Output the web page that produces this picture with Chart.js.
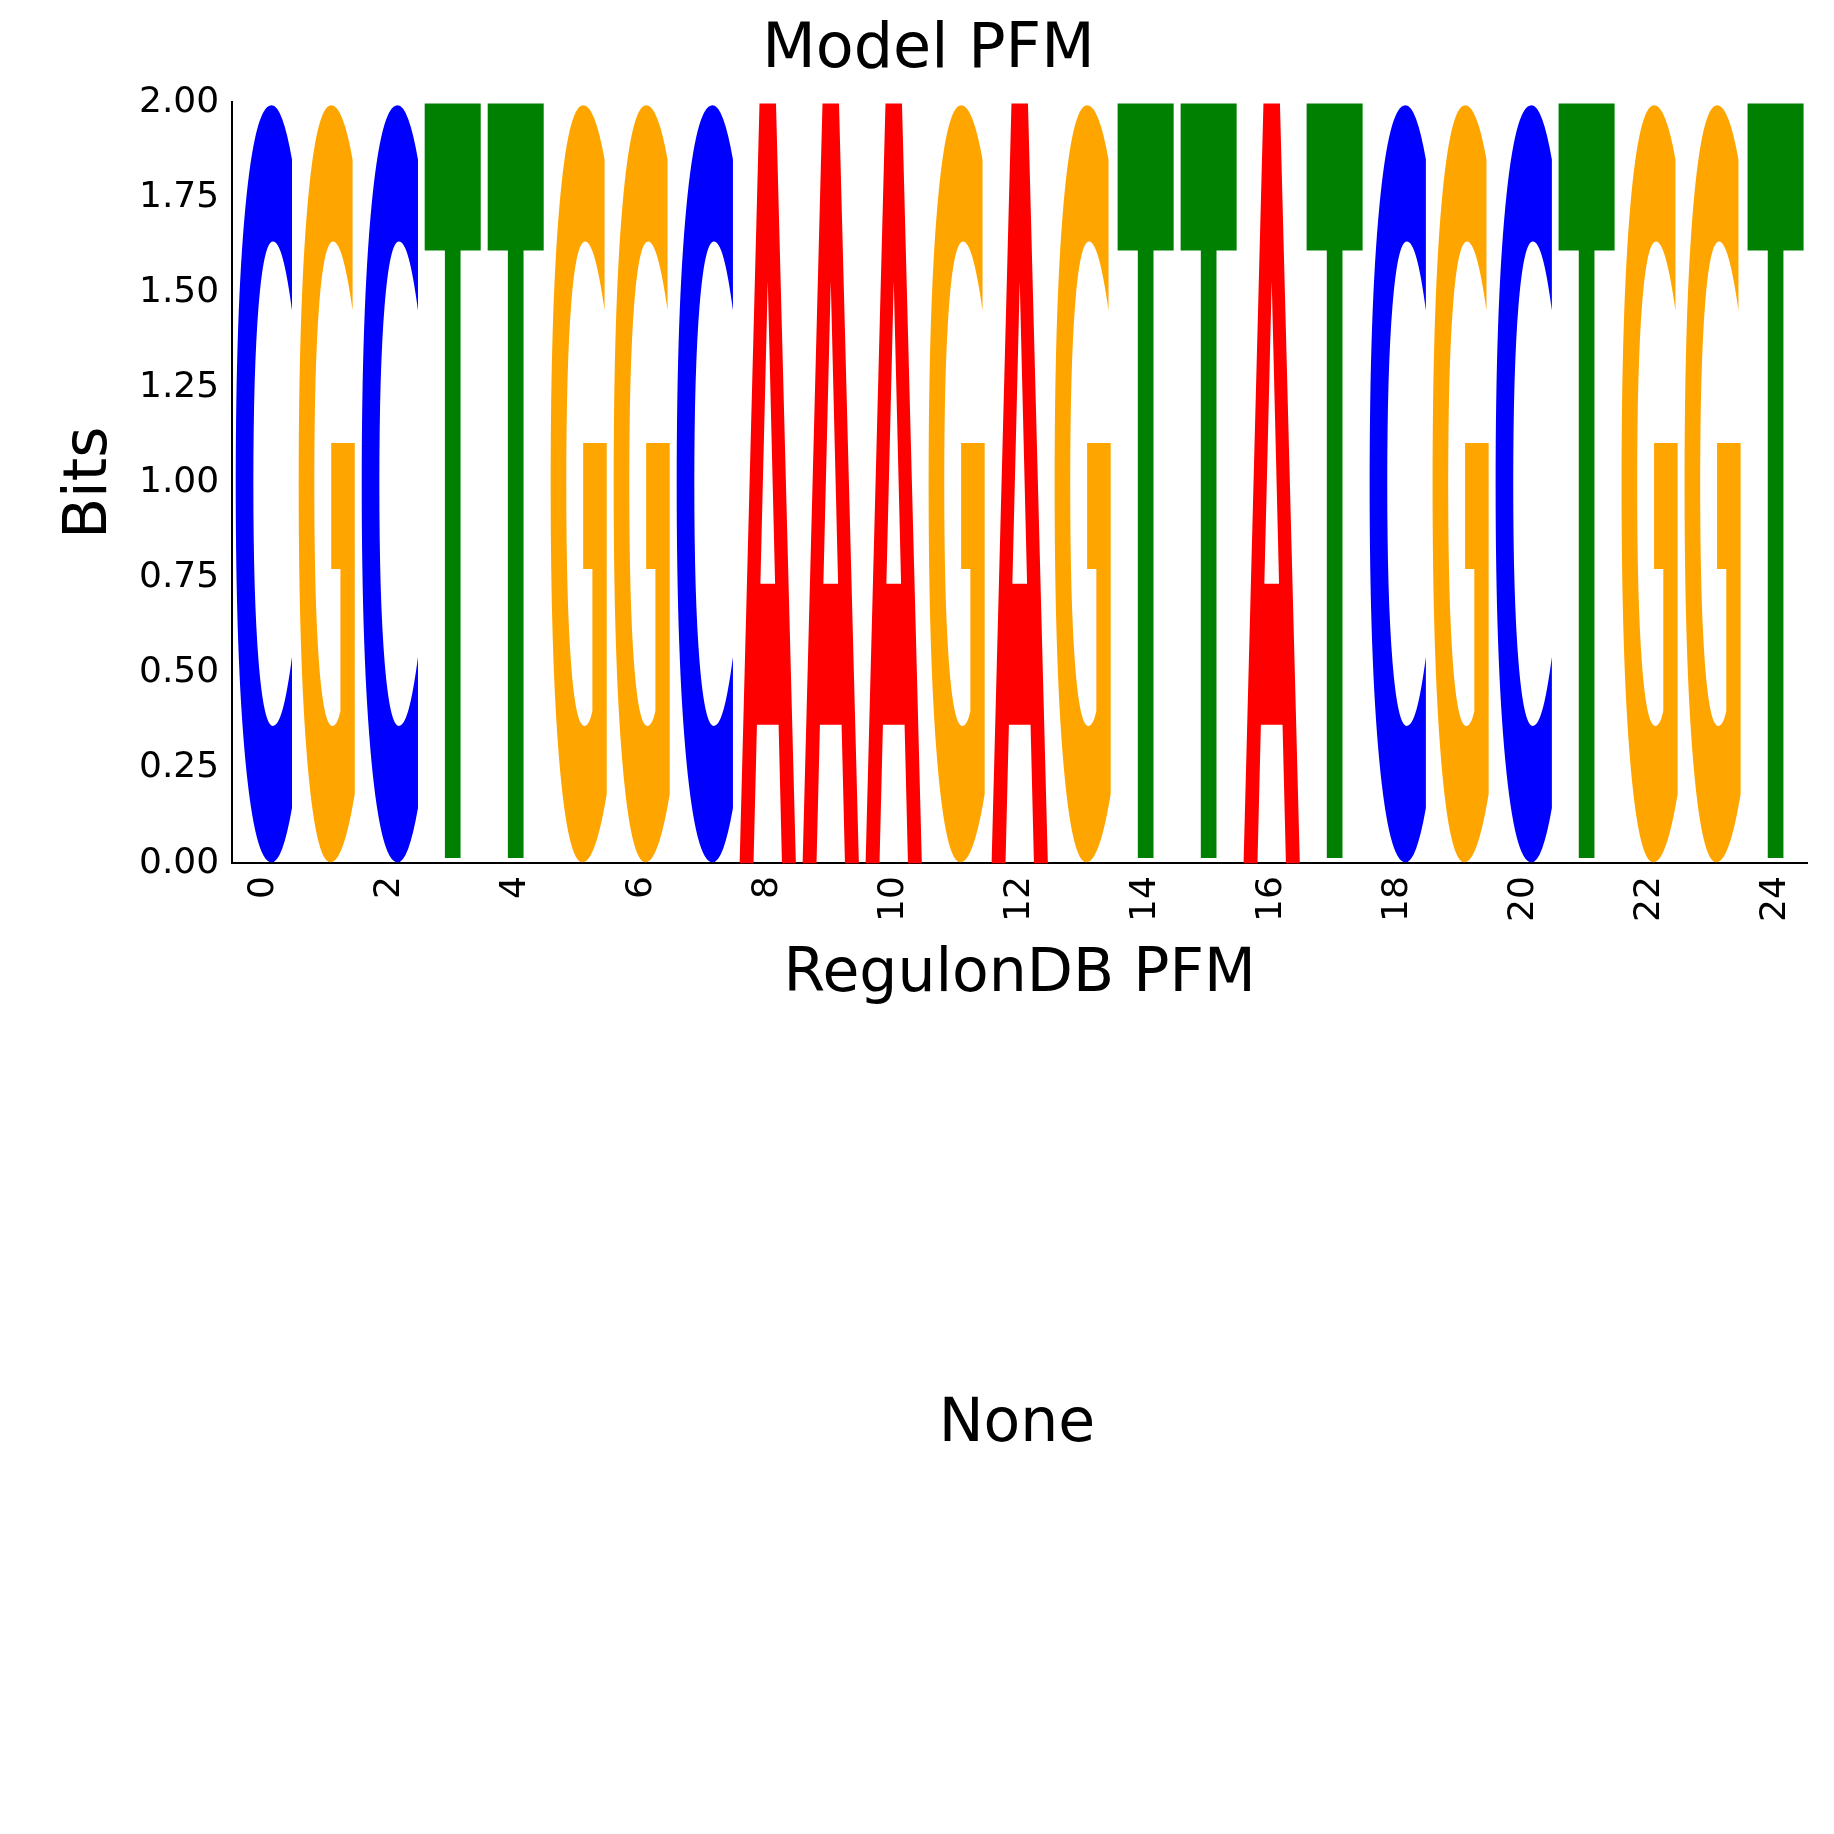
<!DOCTYPE html>
<html><head><meta charset="utf-8">
<script src="https://cdn.jsdelivr.net/npm/chart.js@4/dist/chart.umd.min.js"></script>
<style>
body{margin:0;background:#fff;width:1834px;height:1834px;position:relative;overflow:hidden}
#wrap{position:absolute;left:0;top:0;width:1834px;height:1015px}
#none{position:absolute;left:0;width:1834px;top:1385px;text-align:center;font:60px "DejaVu Sans";color:#000;padding-left:200px;box-sizing:border-box}
</style></head><body>
<div id="wrap"><canvas id="c"></canvas></div>
<div id="none">None</div>
<script>
const positions = Array.from({length:25},(_, i)=>String(i));
const letters = ["C","G","C","T","T","G","G","C","A","A","A","G","A","G","T","T","A","T","C","G","C","T","G","G","T"];
const bits = [2,2,2,2,2,2,2,2,2,2,2,2,2,2,2,2,2,2,2,2,2,2,2,2,2];
const colorMap = {A:"#ff0000",C:"#0000ff",G:"#ffa500",T:"#008000"};

const letterPlugin = {
  id:'letters',
  afterDatasetsDraw(chart){
    const ctx = chart.ctx;
    const meta = chart.getDatasetMeta(0);
    meta.data.forEach((bar,i)=>{
      const p = bar.getProps(['x','y','base','width'],true);
      const L = letters[i];
      ctx.save();
      ctx.font = 'bold 200px "DejaVu Sans"';
      const m = ctx.measureText(L);
      const w = m.actualBoundingBoxLeft + m.actualBoundingBoxRight;
      const h = m.actualBoundingBoxAscent + m.actualBoundingBoxDescent;
      const left = p.x - p.width/2, top = p.y, hh = p.base - p.y;
      ctx.translate(left, top);
      ctx.scale(p.width / w, hh / h);
      ctx.fillStyle = colorMap[L];
      ctx.fillText(L, m.actualBoundingBoxLeft, m.actualBoundingBoxAscent);
      ctx.restore();
    });
  }
};

new Chart(document.getElementById('c'),{
  type:'bar',
  data:{labels:positions,datasets:[{data:bits,backgroundColor:'rgba(0,0,0,0)',barPercentage:0.9,categoryPercentage:1}]},
  options:{
    responsive:true,maintainAspectRatio:false,animation:false,
    layout:{padding:{left:50,right:27,top:0,bottom:0}},
    plugins:{legend:{display:false},tooltip:{enabled:false},
      title:{display:true,text:'Model PFM',font:{family:'DejaVu Sans',size:62,weight:'normal'},color:'#000',padding:{top:14,bottom:14}}},
    scales:{
      x:{offset:true,grid:{display:false,drawTicks:true,tickLength:10,tickColor:'#000'},border:{color:'#000',width:2},
        ticks:{color:'#000',font:{family:'DejaVu Sans',size:36},minRotation:90,maxRotation:90,autoSkip:false,
          callback:(v,i)=> i%2===0 ? positions[i] : ''},
        title:{display:true,text:'RegulonDB PFM',font:{family:'DejaVu Sans',size:60},color:'#000',padding:{top:14}}},
      y:{min:0,max:2,grid:{display:false,tickLength:10,tickColor:'#000'},border:{color:'#000',width:2},
        ticks:{stepSize:0.25,color:'#000',font:{family:'DejaVu Sans',size:36},callback:v=>v.toFixed(2)},
        title:{display:true,text:'Bits',font:{family:'DejaVu Sans',size:60},color:'#000',padding:{bottom:10}}}
    }
  },
  plugins:[letterPlugin]
});
</script></body></html>
